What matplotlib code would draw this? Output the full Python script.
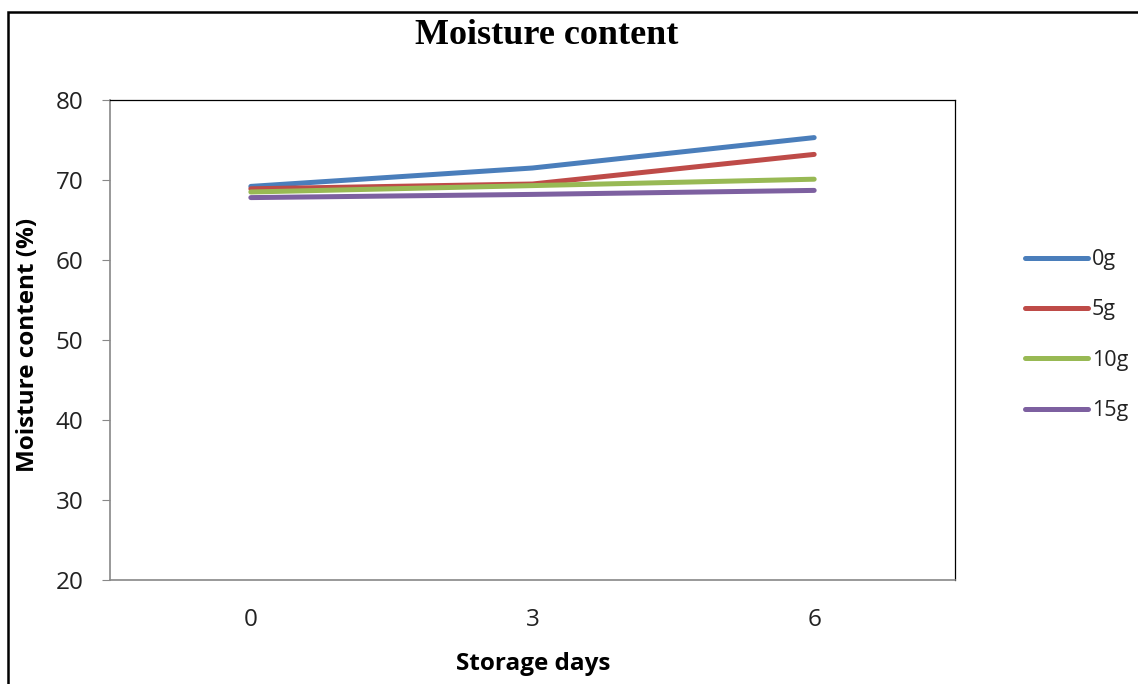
import matplotlib.pyplot as plt
from matplotlib.patches import Rectangle

days = ['0', '3', '6']
series_names = ['0g', '5g', '10g', '15g']
moist_0g = [69.2, 71.5, 75.3]
moist_5g = [68.9, 69.5, 73.2]
moist_10g = [68.5, 69.3, 70.1]
moist_15g = [67.8, 68.2, 68.7]
colors = ['#4A7EBB', '#BE4B48', '#98B954', '#7D60A0']

W, H = 1138, 684
fig = plt.figure(figsize=(W / 100, H / 100), dpi=100)

# axes placement in pixels: left 110, right 955, top 100, bottom 580
ax = fig.add_axes([110 / W, 1 - 580 / H, 845 / W, 480 / H])

x = range(len(days))
for vals, name, c in zip([moist_0g, moist_5g, moist_10g, moist_15g], series_names, colors):
    ax.plot(x, vals, color=c, lw=3.6, label=name, solid_capstyle='round')

ax.set_xlim(-0.5, 2.5)
ax.set_ylim(20, 80)
ax.set_yticks(range(20, 81, 10))
ax.set_xticks(list(x))
ax.set_xticklabels(days)

tick_font = 'Open Sans'
for lab in ax.get_xticklabels() + ax.get_yticklabels():
    lab.set_fontfamily(tick_font)
    lab.set_fontsize(17.5)
    lab.set_color('#222222')

ax.tick_params(axis='y', length=6, color='#888888', pad=13)
ax.tick_params(axis='x', length=0, pad=20)
for s in ['left', 'bottom']:
    ax.spines[s].set_color('#888888')
    ax.spines[s].set_linewidth(1.2)
for s in ['top', 'right']:
    ax.spines[s].set_color('black')
    ax.spines[s].set_linewidth(0.9)

fig.text(547 / W, 1 - 35 / H, 'Moisture content', ha='center', va='center',
         fontsize=26, fontweight='bold', family='Liberation Serif')
fig.text(28 / W, 1 - 345 / H, 'Moisture content (%)', ha='center', va='center',
         rotation=90, fontsize=17.5, fontweight='bold', family=tick_font)
fig.text(533 / W, 1 - 664 / H, 'Storage days', ha='center', va='center',
         fontsize=17.5, fontweight='bold', family=tick_font)

leg = ax.legend(loc='upper left', bbox_to_anchor=(1008 / W, 1 - 232 / H),
                bbox_transform=fig.transFigure, frameon=False,
                handlelength=2.9, handletextpad=0.2, labelspacing=1.36,
                borderpad=0.3, prop={'family': tick_font, 'size': 15.5})
for t in leg.get_texts():
    t.set_color('#222222')

# outer frame of the original picture (cut at right and bottom)
fig.patches.append(Rectangle((8 / W, -0.05), 1.2, 1 - 12 / H + 0.05,
                             transform=fig.transFigure, fill=False,
                             edgecolor='black', lw=1.8))

fig.savefig('out.png', dpi=100)
